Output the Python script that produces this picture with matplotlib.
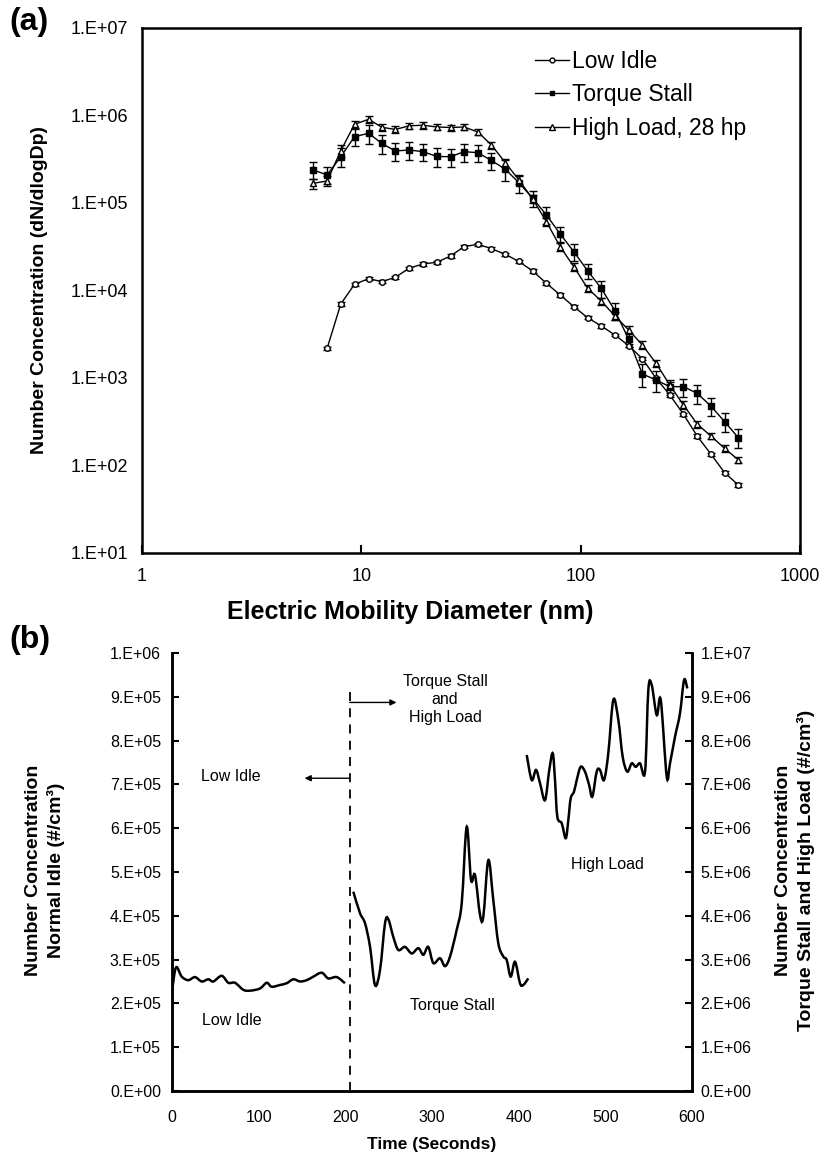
import numpy as np
import matplotlib
matplotlib.use("Agg")
import matplotlib.pyplot as plt
from matplotlib.lines import Line2D
from matplotlib.path import Path
from matplotlib.patches import PathPatch
from matplotlib.ticker import FixedLocator, FuncFormatter, NullLocator

plt.rcParams["font.family"] = ["Liberation Sans", "DejaVu Sans"]

# ---- (a) particle size distributions ----
diameter = [6.04, 6.98, 8.06, 9.31, 10.8, 12.4, 14.3, 16.5, 19.1, 22.1, 25.5,
            29.4, 34.0, 39.2, 45.3, 52.3, 60.4, 69.8, 80.6, 93.1, 107.5, 124.1,
            143.3, 165.5, 191.1, 220.7, 254.8, 294.3, 339.8, 392.4, 453.2, 523.3]

low_idle = [2183, 7015, 11780, 13650, 12610, 14160, 17940, 20090, 21000, 24790,
            31680, 33740, 30050, 25930, 21440, 16700, 12090, 8890, 6530, 4890,
            3930, 3100, 2340, 1663, 993, 640, 385, 217, 135, 82.7, 59.9]
low_idle_sd = [90, 280, 470, 550, 500, 570, 720, 800, 840, 990, 1270, 1350,
               1200, 1040, 860, 670, 480, 360, 260, 200, 160, 120, 94, 67, 40,
               26, 15, 9, 5, 3.3, 2.4]

torque_stall = [238300, 208900, 338200, 572400, 626200, 478600, 392900, 403300,
                385800, 340000, 338000, 385800, 375700, 306000, 242900, 170600,
                113200, 73000, 44250, 27750, 16830, 10590, 5880, 2770, 1111, 949,
                796, 796, 668, 478, 317, 208]
torque_stall_sd = [52400, 46000, 82900, 126000, 153400, 112500, 92300, 92800,
                   84900, 79900, 79400, 90700, 82700, 67300, 65600, 39200, 23800,
                   16100, 8850, 6100, 3370, 2330, 1290, 500, 322, 256, 159, 183,
                   164, 110, 78, 51]

high_load = [168000, 178300, 396000, 793000, 905000, 733000, 692000, 762000,
             774000, 739000, 729000, 739000, 647000, 460000, 290000, 183000,
             111000, 61100, 31700, 18700, 10600, 7590, 5110, 3540, 2385, 1472,
             832, 491, 298, 217, 157, 116]
high_load_sd = [21800, 23200, 59400, 71400, 90500, 66000, 62300, 68600, 69700,
                59100, 58300, 59100, 51800, 41400, 29000, 18300, 11100, 6110,
                3170, 1870, 1060, 683, 511, 354, 239, 147, 75, 49, 27, 17, 13, 9]

# ---- (b) time series ----
idle_time = [0, 4.6, 11.2, 18.8, 26.5, 34.3, 41.9, 47.7, 57.3, 65.0, 72.7, 82.3,
             90.0, 101.5, 109.3, 115.0, 124.6, 132.3, 140.0, 147.7, 155.4, 163.0,
             172.7, 180.3, 190.0, 199.6]
idle_conc = [2.27e5, 2.82e5, 2.61e5, 2.53e5, 2.60e5, 2.50e5, 2.55e5, 2.50e5,
             2.63e5, 2.47e5, 2.47e5, 2.31e5, 2.29e5, 2.34e5, 2.47e5, 2.38e5,
             2.42e5, 2.46e5, 2.55e5, 2.50e5, 2.53e5, 2.61e5, 2.70e5, 2.57e5,
             2.60e5, 2.46e5]

stall_time = [209.2, 216.9, 222.7, 228.5, 234.2, 240.0, 245.8, 249.6, 255.3,
              261.1, 268.8, 276.6, 284.2, 290.0, 295.7, 301.5, 309.2, 315.0,
              320.8, 328.5, 334.3, 340.0, 345.0, 349.6, 355.4, 359.2, 365.0,
              370.7, 376.5, 382.3, 386.2, 390.8, 395.8, 401.5, 405.3, 411.1]
stall_conc = [4.55e6, 4.06e6, 3.83e6, 3.29e6, 2.42e6, 2.76e6, 3.83e6, 3.92e6,
              3.52e6, 3.22e6, 3.29e6, 3.14e6, 3.26e6, 3.11e6, 3.29e6, 2.92e6,
              3.03e6, 2.85e6, 3.07e6, 3.68e6, 4.29e6, 6.03e6, 4.82e6, 4.93e6,
              4.02e6, 3.98e6, 5.27e6, 4.36e6, 3.37e6, 3.07e6, 2.99e6, 2.61e6,
              2.95e6, 2.46e6, 2.42e6, 2.57e6]

load_time = [409.3, 415.0, 420.0, 424.6, 430.4, 435.3, 439.3, 441.9, 444.6,
             449.7, 454.3, 457.3, 460.0, 463.8, 467.0, 471.5, 476.5, 481.2,
             485.0, 490.0, 493.8, 498.5, 503.4, 509.2, 515.0, 520.0, 525.3,
             530.4, 535.0, 540.0, 545.8, 549.6, 553.5, 559.3, 563.9, 570.8,
             574.6, 580.4, 586.1, 590.8, 594.6]
load_conc = [7.67e6, 7.10e6, 7.33e6, 7.03e6, 6.64e6, 7.33e6, 7.71e6, 7.10e6,
             6.26e6, 6.11e6, 5.77e6, 6.19e6, 6.68e6, 6.83e6, 7.10e6, 7.40e6,
             7.29e6, 6.99e6, 6.72e6, 7.29e6, 7.33e6, 7.10e6, 7.71e6, 8.93e6,
             8.47e6, 7.63e6, 7.29e6, 7.48e6, 7.40e6, 7.48e6, 7.29e6, 9.16e6,
             9.27e6, 8.58e6, 8.93e6, 7.18e6, 7.48e6, 8.09e6, 8.62e6, 9.38e6,
             9.19e6]

split_time = 205


def sci_label(v, pos):
    # 1.E+06 style labels like the spreadsheet
    if v <= 0:
        return "0.E+00"
    e = int(np.floor(np.log10(v) + 1e-9))
    return f"{v / 10 ** e:.0f}.E{e:+03d}"


def smooth_line(axis, x, y, **kw):
    """Excel-like smoothed line: Catmull-Rom segments as cubic Beziers."""
    p = np.column_stack([x, y]).astype(float)
    verts = [p[0]]
    codes = [Path.MOVETO]
    n = len(p)
    for i in range(n - 1):
        p0 = p[max(i - 1, 0)]
        p3 = p[min(i + 2, n - 1)]
        c1 = p[i] + (p[i + 1] - p0) / 6
        c2 = p[i + 1] - (p3 - p[i]) / 6
        verts += [c1, c2, p[i + 1]]
        codes += [Path.CURVE4] * 3
    axis.add_patch(PathPatch(Path(verts, codes), fill=False, **kw))


fig = plt.figure(figsize=(8.21, 11.61), dpi=100)

# ---------------- panel (a) ----------------
ax = fig.add_axes([0.1730, 0.5237, 0.8014, 0.4522])
ax.set_xscale("log")
ax.set_yscale("log")
ax.set_xlim(1, 1000)
ax.set_ylim(10, 1e7)

eb = dict(color="black", lw=1.0, elinewidth=1.0, capsize=2.6, capthick=1.0)
ax.errorbar(diameter[1:], low_idle, yerr=low_idle_sd, marker="o", ms=4.0,
            mfc="white", mec="black", mew=1.0, **eb)
ax.errorbar(diameter, torque_stall, yerr=torque_stall_sd, marker="s", ms=3.8,
            mfc="black", mec="black", **eb)
ax.errorbar(diameter, high_load, yerr=high_load_sd, marker="^", ms=5.0,
            mfc="white", mec="black", mew=1.0, **eb)

ax.xaxis.set_major_locator(FixedLocator([1, 10, 100, 1000]))
ax.xaxis.set_minor_locator(NullLocator())
ax.xaxis.set_major_formatter(FuncFormatter(lambda v, p: f"{v:g}"))
ax.yaxis.set_major_locator(FixedLocator([10.0 ** k for k in range(1, 8)]))
ax.yaxis.set_minor_locator(NullLocator())
ax.yaxis.set_major_formatter(FuncFormatter(sci_label))
ax.tick_params(axis="x", direction="in", length=6, width=1.5, labelsize=13, pad=11)
ax.tick_params(axis="y", direction="in", length=0, labelsize=13, pad=10)
for s in ax.spines.values():
    s.set_linewidth(1.8)

handles = [
    Line2D([], [], color="black", lw=1.0, marker="o", ms=3.5, mfc="white", mew=1.0),
    Line2D([], [], color="black", lw=1.0, marker="s", ms=3.5, mfc="black"),
    Line2D([], [], color="black", lw=1.0, marker="^", ms=4.5, mfc="white", mew=1.0),
]
ax.legend(handles, ["Low Idle", "Torque Stall", "High Load, 28 hp"],
          loc="upper left", bbox_to_anchor=(0.598, 0.958), frameon=False,
          fontsize=16.5, handlelength=1.45, handletextpad=0.15,
          labelspacing=0.45, borderaxespad=0, borderpad=0)

fig.text(0.50, 1 - 612 / 1161, "Electric Mobility Diameter (nm)", ha="center",
         va="center", fontsize=18, fontweight="bold")
fig.text(40 / 821, 0.75, "Number Concentration (dN/dlogDp)", ha="center",
         va="center", rotation=90, fontsize=14, fontweight="bold")
fig.text(0.012, 1 - 22 / 1161, "(a)", ha="left", va="center", fontsize=23,
         fontweight="bold")

# ---------------- panel (b) ----------------
bx = fig.add_axes([0.2095, 0.0603, 0.6334, 0.3773])
bx2 = bx.twinx()
bx.set_xlim(0, 600)
bx.set_ylim(0, 1e6)
bx2.set_ylim(0, 1e7)

smooth_line(bx, idle_time, idle_conc, edgecolor="black", lw=1.8)
smooth_line(bx2, stall_time, stall_conc, edgecolor="black", lw=1.8)
smooth_line(bx2, load_time, load_conc, edgecolor="black", lw=1.8)

bx.plot([split_time, split_time], [0, 9.27e5], color="black", lw=1.3,
        ls=(0, (5, 4)))
bx.annotate("", xy=(153, 7.14e5), xytext=(split_time, 7.14e5),
            arrowprops=dict(arrowstyle="-|>", color="black", lw=1.0,
                            mutation_scale=9, shrinkA=0, shrinkB=0))
bx.annotate("", xy=(259, 8.87e5), xytext=(split_time, 8.87e5),
            arrowprops=dict(arrowstyle="-|>", color="black", lw=1.0,
                            mutation_scale=9, shrinkA=0, shrinkB=0))

bx.text(68, 7.19e5, "Low Idle", ha="center", va="center", fontsize=11.5)
bx.text(69, 1.62e5, "Low Idle", ha="center", va="center", fontsize=11.5)
bx.text(315, 8.93e5, "Torque Stall\nand\nHigh Load", ha="center", va="center",
        fontsize=11.5, linespacing=1.25)
bx.text(324, 1.96e5, "Torque Stall", ha="center", va="center", fontsize=11.5)
bx.text(502, 5.16e5, "High Load", ha="center", va="center", fontsize=11.5)

bx.xaxis.set_major_locator(FixedLocator(np.arange(0, 601, 100)))
bx.yaxis.set_major_locator(FixedLocator(np.arange(0, 1.0e6 + 1, 1e5)))
bx2.yaxis.set_major_locator(FixedLocator(np.arange(0, 1.0e7 + 1, 1e6)))
bx.yaxis.set_major_formatter(FuncFormatter(sci_label))
bx2.yaxis.set_major_formatter(FuncFormatter(sci_label))
bx.tick_params(axis="x", direction="in", length=0, labelsize=11.5, pad=14)
bx.tick_params(axis="y", direction="in", length=5, width=1.5, labelsize=11.5, pad=8)
bx2.tick_params(axis="y", direction="in", length=5, width=1.5, labelsize=11.5, pad=6)
for s in list(bx.spines.values()) + list(bx2.spines.values()):
    s.set_linewidth(1.8)
bx.spines["top"].set_visible(False)
bx2.spines["top"].set_visible(False)

fig.text(432 / 821, 1 - 1145 / 1161, "Time (Seconds)", ha="center", va="center",
         fontsize=12.5, fontweight="bold")
fig.text(45 / 821, 1 - 870 / 1161, "Number Concentration\nNormal Idle (#/cm³)",
         ha="center", va="center", rotation=90, fontsize=14, fontweight="bold",
         linespacing=1.3)
fig.text(795 / 821, 1 - 870 / 1161,
         "Number Concentration\nTorque Stall and High Load (#/cm³)",
         ha="center", va="center", rotation=90, fontsize=14, fontweight="bold",
         linespacing=1.3)
fig.text(0.012, 1 - 640 / 1161, "(b)", ha="left", va="center", fontsize=23,
         fontweight="bold")

fig.savefig("out.png", dpi=100)
